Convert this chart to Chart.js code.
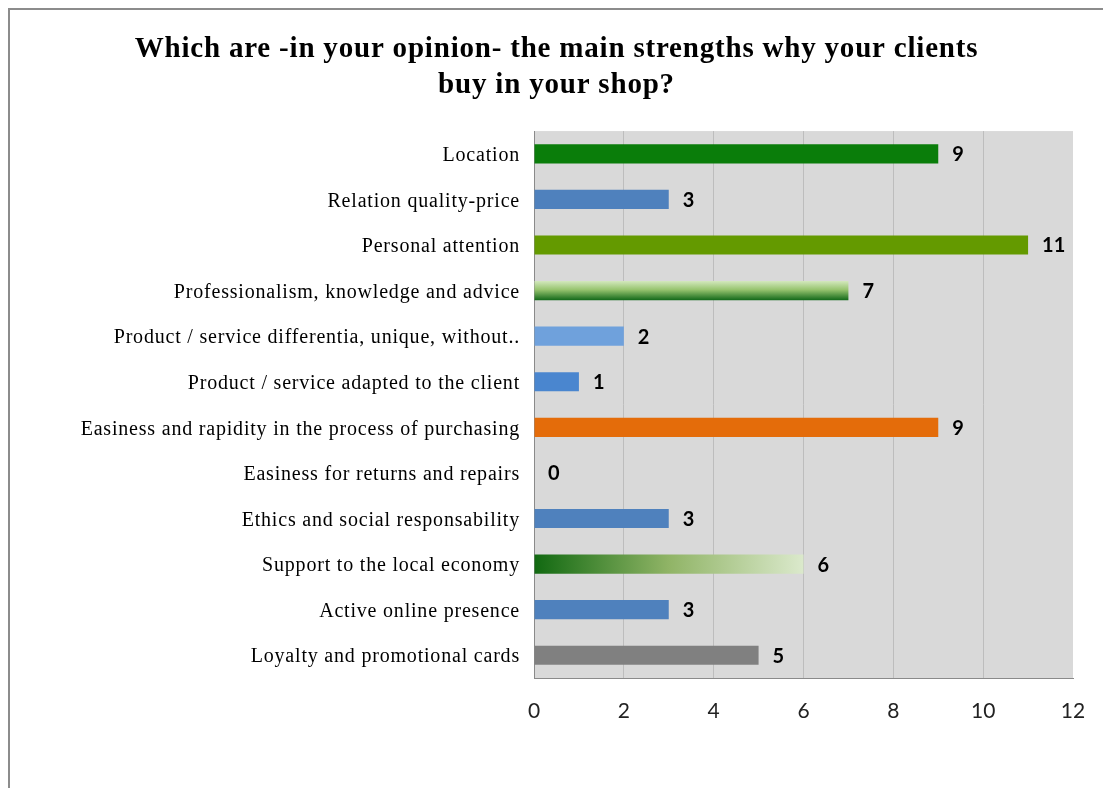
<!DOCTYPE html>
<html>
<head>
<meta charset="utf-8">
<script src="https://cdn.jsdelivr.net/npm/chart.js@4"></script>
<style>
    body { margin: 0; background: #fff; overflow: hidden; }
    #marco {
        position: absolute; left: 8px; top: 8px;
        width: 1200px; height: 900px;
        border: 2px solid #8c8c8c; box-sizing: border-box;
    }
    #grafico { position: absolute; left: 0; top: 0; }
</style>
</head>
<body>
<div id="marco"></div>
<canvas id="grafico" width="1103" height="788"></canvas>
<script>
const titulo = [
    "Which are -in your opinion- the main strengths why your clients",
    "buy in your shop?"
];

const categorias = [
    "Location",
    "Relation quality-price",
    "Personal attention",
    "Professionalism, knowledge and advice",
    "Product / service differentia, unique, without..",
    "Product / service adapted to the client",
    "Easiness and rapidity in the process of purchasing",
    "Easiness for returns and repairs",
    "Ethics and social responsability",
    "Support to the local economy",
    "Active online presence",
    "Loyalty and promotional cards"
];

const valores = [9, 3, 11, 7, 2, 1, 9, 0, 3, 6, 3, 5];

// "degradado-v" y "degradado-h" se resuelven abajo como gradientes
const colores = [
    "#0a7d0a", "#4f81bd", "#649a00", "degradado-v", "#6fa1dc", "#4a86cf",
    "#e46c0a", "#4f81bd", "#4f81bd", "degradado-h", "#4f81bd", "#808080"
];

const ejeMin = 0;
const ejeMax = 12;
const ejePaso = 2;

const grosorBarra = 0.42;

function colorBarra(ctx) {
    const chart = ctx.chart;
    const color = colores[ctx.dataIndex];
    if (!chart.chartArea || !chart.scales.x || !chart.scales.y) return "#4f9a3a";
    const c = chart.ctx;
    const sx = chart.scales.x;
    const sy = chart.scales.y;

    if (color === "degradado-v") {
        const fila = sy.getPixelForValue(1) - sy.getPixelForValue(0);
        const yc = sy.getPixelForValue(ctx.dataIndex);
        const g = c.createLinearGradient(0, yc - fila * grosorBarra / 2, 0, yc + fila * grosorBarra / 2);
        g.addColorStop(0, "#d3e8bd");
        g.addColorStop(0.45, "#97c46f");
        g.addColorStop(1, "#13691a");
        return g;
    }
    if (color === "degradado-h") {
        const g = c.createLinearGradient(sx.getPixelForValue(0), 0, sx.getPixelForValue(valores[ctx.dataIndex]), 0);
        g.addColorStop(0, "#116911");
        g.addColorStop(0.5, "#90b466");
        g.addColorStop(1, "#dbe9cc");
        return g;
    }
    return color;
}

// fondo gris del area de trazado; el titulo y las categorias van con letras espaciadas
const fondoArea = {
    id: "fondoArea",
    beforeDraw(chart) {
        const { ctx, chartArea: a } = chart;
        ctx.save();
        ctx.fillStyle = "#d9d9d9";
        ctx.fillRect(a.left, a.top, a.right - a.left, a.bottom - a.top);
        ctx.restore();
        ctx.letterSpacing = "0.8px";
    },
    afterDatasetsDraw(chart) {
        // lo que viene despues (numeros del eje x) sin espaciado
        chart.ctx.letterSpacing = "0px";
    }
};

// numeros al final de cada barra
const etiquetasValor = {
    id: "etiquetasValor",
    afterDatasetsDraw(chart) {
        const ctx = chart.ctx;
        const meta = chart.getDatasetMeta(0);
        ctx.save();
        ctx.letterSpacing = "0px";
        ctx.font = "bold 20px Lato";
        ctx.fillStyle = "#000";
        ctx.textAlign = "left";
        ctx.textBaseline = "middle";
        meta.data.forEach((bar, i) => {
            ctx.fillText(String(valores[i]), bar.x + 14, bar.y + 1);
        });
        ctx.restore();
    }
};

const chart = new Chart(document.getElementById("grafico").getContext("2d"), {
    type: "bar",
    data: {
        labels: categorias,
        datasets: [{
            data: valores,
            backgroundColor: colorBarra,
            borderWidth: 0,
            barPercentage: grosorBarra,
            categoryPercentage: 1
        }]
    },
    options: {
        indexAxis: "y",
        responsive: false,
        animation: false,
        layout: { padding: { left: 40, right: 30, top: 0, bottom: 0 } },
        plugins: {
            legend: { display: false },
            tooltip: { enabled: false },
            title: {
                display: true,
                text: titulo,
                color: "#000",
                font: { family: "Liberation Serif", size: 29, weight: "bold", lineHeight: 1.26 },
                padding: { top: 31, bottom: 27 }
            }
        },
        scales: {
            x: {
                min: ejeMin,
                max: ejeMax,
                afterFit: s => {
                    s.height = 110;
                    // el margen lo pone layout.padding
                    s.paddingLeft = 0;
                    s.paddingRight = 0;
                },
                ticks: {
                    stepSize: ejePaso,
                    color: "#222",
                    padding: 21,
                    z: 1,
                    font: { family: "Lato", size: 21 }
                },
                grid: {
                    drawTicks: false,
                    color: c => (c.tick && (c.tick.value === ejeMin || c.tick.value === ejeMax)) ? "rgba(0,0,0,0)" : "#bdbdbd"
                },
                border: { display: true, color: "#8a8a8a", width: 1 }
            },
            y: {
                afterFit: s => { s.width = 494; },
                ticks: {
                    color: "#000",
                    padding: 14,
                    labelOffset: 2,
                    font: { family: "Liberation Serif", size: 20 }
                },
                grid: { drawTicks: false, color: "rgba(0,0,0,0)" },
                border: { display: true, color: "#8a8a8a", width: 1 }
            }
        }
    },
    plugins: [fondoArea, etiquetasValor]
});
</script>
</body>
</html>
